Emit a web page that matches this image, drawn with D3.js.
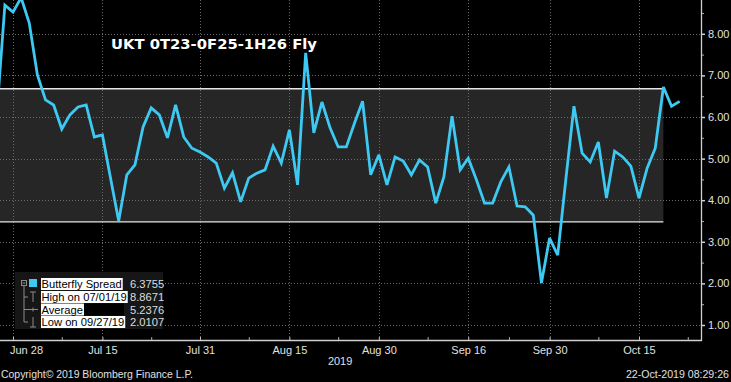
<!DOCTYPE html>
<html><head><meta charset="utf-8">
<script src="https://cdn.jsdelivr.net/npm/d3@7"></script>
<style>body{margin:0;background:#000;overflow:hidden} svg{display:block}</style>
</head><body><svg id="c" width="731" height="382"></svg>
<script>
const dates = [
"2019-06-26","2019-06-27","2019-06-28",
"2019-07-01","2019-07-02","2019-07-03","2019-07-04","2019-07-05",
"2019-07-08","2019-07-09","2019-07-10","2019-07-11","2019-07-12",
"2019-07-15","2019-07-16","2019-07-17","2019-07-18","2019-07-19",
"2019-07-22","2019-07-23","2019-07-24","2019-07-25","2019-07-26",
"2019-07-29","2019-07-30","2019-07-31","2019-08-01","2019-08-02",
"2019-08-05","2019-08-06","2019-08-07","2019-08-08","2019-08-09",
"2019-08-12","2019-08-13","2019-08-14","2019-08-15","2019-08-16",
"2019-08-19","2019-08-20","2019-08-21","2019-08-22","2019-08-23",
"2019-08-26","2019-08-27","2019-08-28","2019-08-29","2019-08-30",
"2019-09-02","2019-09-03","2019-09-04","2019-09-05","2019-09-06",
"2019-09-09","2019-09-10","2019-09-11","2019-09-12","2019-09-13",
"2019-09-16","2019-09-17","2019-09-18","2019-09-19","2019-09-20",
"2019-09-23","2019-09-24","2019-09-25","2019-09-26","2019-09-27",
"2019-09-30","2019-10-01","2019-10-02","2019-10-03","2019-10-04",
"2019-10-07","2019-10-08","2019-10-09","2019-10-10","2019-10-11",
"2019-10-14","2019-10-15","2019-10-16","2019-10-17","2019-10-18",
"2019-10-21","2019-10-22"];
const spread = [
6.05,8.69,8.52,
8.8671,8.26,7.01,6.41,6.29,
5.71,6.05,6.24,6.29,5.52,
5.57,4.53,3.50,4.61,4.85,
5.76,6.22,6.05,5.50,6.29,
5.52,5.25,5.16,5.04,4.89,
4.29,4.66,3.96,4.53,4.65,
4.73,5.30,4.89,5.69,4.37,
7.54,5.62,6.36,5.74,5.28,
5.28,5.85,6.38,4.61,5.09,
4.37,5.04,4.94,4.61,4.97,
4.80,3.93,4.56,6.02,4.73,
5.01,4.49,3.93,3.93,4.44,
4.80,3.86,3.84,3.64,2.0107,
3.09,2.68,4.50,6.26,5.13,
4.92,5.40,4.05,5.18,5.04,
4.82,4.05,4.77,5.25,6.72,
6.26,6.3755];
const xTickDates = ["2019-06-28","2019-07-15","2019-07-31","2019-08-15","2019-08-30","2019-09-16","2019-09-30","2019-10-15"];
const xTickLabels = ["Jun 28","Jul 15","Jul 31","Aug 15","Aug 30","Sep 16","Sep 30","Oct 15"];
const xMinorDates = ["2019-07-08","2019-07-23","2019-08-08","2019-08-23","2019-09-09","2019-09-23","2019-10-08","2019-10-23"];
const yearLabel = "2019";
const yTicks = [1,2,3,4,5,6,7,8];
const yMinorTicks = [1.5,2.5,3.5,4.5,5.5,6.5,7.5,8.5];
const bandLow = 3.48, bandHigh = 6.68, bandEnd = "2019-10-18";
const title = "UKT 0T23-0F25-1H26 Fly";
const legendLabels = ["Butterfly Spread","High on 07/01/19","Average","Low on 09/27/19"];
const legendValues = ["6.3755","8.8671","5.2376","2.0107"];
const footerLeft = "Copyright\u00A9 2019 Bloomberg Finance L.P.";
const footerRight = "22-Oct-2019 08:29:26";

const LINE = "#3dc9f2";
const FONT = "'Liberation Sans', Arial, sans-serif";

function idx(s){
  const i = dates.indexOf(s);
  if (i >= 0) return i;
  const d0 = new Date(dates[0]+"T00:00:00"), d = new Date(s+"T00:00:00");
  return d3.timeDay.range(d0, d).filter(t => t.getDay() % 6 !== 0).length;
}

const svg = d3.select("#c");
svg.append("rect").attr("width",731).attr("height",382).attr("fill","#000");

const axisX = 701, axisY = 340;
const x = d3.scaleLinear().domain([idx("2019-06-28"), idx("2019-10-15")]).range([13, 639]);
const y = d3.scaleLinear().domain([0.6394, 8.8125]).range([axisY, 0]);

// band
const bx1 = x(idx(bandEnd));
svg.append("rect").attr("x",0).attr("y",y(bandHigh)).attr("width",bx1).attr("height",y(bandLow)-y(bandHigh)).attr("fill","#262626");

// grid
const grid = svg.append("g").attr("stroke","#6a6a6a").attr("stroke-width",1).attr("stroke-dasharray","1,2");
grid.selectAll("line.h").data(yTicks).join("line").attr("class","h")
  .attr("x1",0).attr("x2",axisX).attr("y1",d=>Math.round(y(d))+0.5).attr("y2",d=>Math.round(y(d))+0.5);
grid.selectAll("line.v").data(xTickDates).join("line").attr("class","v")
  .attr("x1",d=>Math.round(x(idx(d)))+0.5).attr("x2",d=>Math.round(x(idx(d)))+0.5).attr("y1",0).attr("y2",axisY);

// band edges
svg.selectAll("line.band").data([bandHigh, bandLow]).join("line").attr("class","band")
  .attr("x1",0).attr("x2",bx1).attr("y1",d=>y(d)).attr("y2",d=>y(d))
  .attr("stroke","#e6e6e6").attr("stroke-width",1.4);

// series line
svg.append("path").datum(spread)
  .attr("d", d3.line().x((d,i)=>x(i)).y(d=>y(d)))
  .attr("fill","none").attr("stroke",LINE).attr("stroke-width",2.8).attr("stroke-linejoin","miter").attr("stroke-miterlimit",3);

// title
svg.append("text").attr("x",111).attr("y",49).text(title)
  .attr("fill","#fff").attr("font-family","'DejaVu Sans', Verdana, sans-serif").attr("font-weight","bold").attr("font-size",14.6)
  .attr("textLength",206).attr("lengthAdjust","spacingAndGlyphs");

// y axis
const gy = svg.append("g").attr("transform",`translate(${axisX},0)`)
  .call(d3.axisRight(y).tickValues(yTicks).tickFormat(d3.format(".2f")).tickSize(4).tickPadding(3));
gy.select(".domain").remove();
gy.selectAll(".tick line").attr("stroke","#d0d0d0").attr("stroke-width",1.5);
gy.selectAll(".tick text").attr("fill","#e0e0e0").attr("font-family",FONT).attr("font-size",11);
svg.append("g").attr("transform",`translate(${axisX},0)`)
  .call(d3.axisRight(y).tickValues(yMinorTicks).tickFormat("").tickSize(3))
  .call(g=>g.select(".domain").remove())
  .selectAll(".tick line").attr("stroke","#aaa");
svg.append("line").attr("x1",axisX+0.5).attr("x2",axisX+0.5).attr("y1",0).attr("y2",axisY+1).attr("stroke","#d0d0d0").attr("stroke-width",1.3);

// x axis
const gx = svg.append("g").attr("transform",`translate(0,${axisY})`)
  .call(d3.axisBottom(x).tickValues(xTickDates.map(idx)).tickFormat((d,i)=>xTickLabels[i]).tickSizeInner(-3).tickSizeOuter(0).tickPadding(6));
gx.select(".domain").remove();
gx.selectAll(".tick line").attr("stroke","#c0c0c0");
gx.selectAll(".tick text").attr("fill","#e0e0e0").attr("font-family",FONT).attr("font-size",11)
  .attr("dx",(d,i)=>i===0?13:0);
svg.append("g").attr("transform",`translate(0,${axisY})`)
  .call(d3.axisBottom(x).tickValues(xMinorDates.map(idx)).tickFormat("").tickSizeInner(-3).tickSizeOuter(0))
  .call(g=>g.select(".domain").remove())
  .selectAll(".tick line").attr("stroke","#aaa");
svg.append("line").attr("x1",0).attr("x2",axisX+1).attr("y1",axisY+0.5).attr("y2",axisY+0.5).attr("stroke","#d0d0d0").attr("stroke-width",1.3);
svg.append("text").attr("x",(x(idx("2019-08-15"))+x(idx("2019-08-30")))/2+6).attr("y",365).attr("text-anchor","middle")
  .text(yearLabel).attr("fill","#e0e0e0").attr("font-family",FONT).attr("font-size",11);

// footer
svg.append("text").attr("x",1).attr("y",378).text(footerLeft).attr("fill","#e0e0e0").attr("font-family",FONT).attr("font-size",10.5)
  .attr("textLength",192).attr("lengthAdjust","spacingAndGlyphs");
svg.append("text").attr("x",729).attr("y",378).attr("text-anchor","end").text(footerRight).attr("fill","#e0e0e0").attr("font-family",FONT).attr("font-size",10.6);

// legend
const lg = svg.append("g");
lg.append("rect").attr("x",15).attr("y",272).attr("width",148).attr("height",57).attr("fill","#161616");
const rowY = [284, 297, 309.5, 322];
legendLabels.forEach((lab,i)=>{
  if (i===2) lg.append("rect").attr("x",41).attr("y",rowY[i]-6).attr("width",83).attr("height",12).attr("fill","#000");
  const bg = lg.append("rect").attr("x",41).attr("y",rowY[i]-6).attr("height",12).attr("fill","#fff");
  const t = lg.append("text").attr("x",41.5).attr("y",rowY[i]+4).text(lab).attr("fill","#000").attr("font-family",FONT).attr("font-size",11.2);
  bg.attr("width", t.node().getComputedTextLength() + 1.5);
  lg.append("text").attr("x",130).attr("y",rowY[i]+4).text(legendValues[i]).attr("fill","#ddd").attr("font-family",FONT).attr("font-size",11.2);
});
// tree & icons
const ic = lg.append("g").attr("stroke","#8a8a8a").attr("fill","none").attr("stroke-width",1);
ic.append("rect").attr("x",21.5).attr("y",280.5).attr("width",5).attr("height",5);
ic.append("line").attr("x1",22.5).attr("x2",25.5).attr("y1",283).attr("y2",283);
ic.append("line").attr("x1",24).attr("x2",24).attr("y1",286).attr("y2",rowY[3]);
[1,2,3].forEach(i=>ic.append("line").attr("x1",24).attr("x2",28).attr("y1",rowY[i]).attr("y2",rowY[i]));
ic.append("line").attr("x1",33).attr("x2",33).attr("y1",292).attr("y2",302);
ic.append("line").attr("x1",30).attr("x2",36).attr("y1",292).attr("y2",292);
ic.append("line").attr("x1",28).attr("x2",38).attr("y1",rowY[2]).attr("y2",rowY[2]);
ic.append("line").attr("x1",33).attr("x2",33).attr("y1",rowY[2]-2).attr("y2",rowY[2]+2);
ic.append("line").attr("x1",33).attr("x2",33).attr("y1",317).attr("y2",327);
ic.append("line").attr("x1",30).attr("x2",36).attr("y1",327).attr("y2",327);
lg.append("rect").attr("x",29).attr("y",279).attr("width",8).attr("height",8).attr("fill",LINE);
</script></body></html>
